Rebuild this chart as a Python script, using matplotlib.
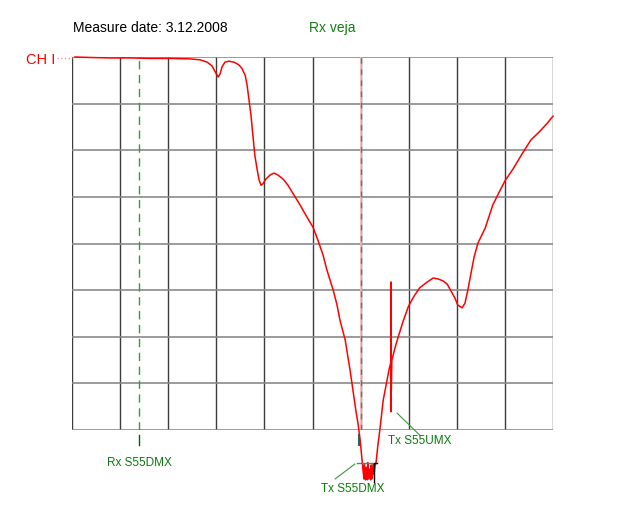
import numpy as np
import matplotlib
matplotlib.use("Agg")
import matplotlib.pyplot as plt

plt.rcParams['font.family'] = ['Liberation Sans', 'DejaVu Sans']

# trace in screen divisions (10 x 8 grid, 0 = top line)
x_div = [0.06, 0.37, 0.79, 1.21, 1.62, 2.04, 2.45, 2.66, 2.81, 2.91, 2.99, 3.04, 3.08, 3.12,
         3.18, 3.26, 3.37, 3.47, 3.53, 3.60, 3.64, 3.68, 3.72, 3.76, 3.80, 3.85, 3.89, 3.93,
         3.97, 4.03, 4.12, 4.20, 4.28, 4.39, 4.49, 4.59, 4.74, 4.86, 5.01, 5.11, 5.22, 5.30,
         5.43, 5.51, 5.57, 5.68, 5.78, 5.84, 5.90, 5.95, 5.99, 6.03,
         6.05, 6.07, 6.08, 6.10, 6.12, 6.14, 6.15, 6.17, 6.19, 6.21, 6.22, 6.24, 6.26, 6.28,
         6.30, 6.32, 6.36, 6.40, 6.47, 6.55, 6.59, 6.63, 6.63, 6.63,
         6.65, 6.72, 6.78, 6.88, 6.99, 7.11, 7.23, 7.38, 7.51, 7.61, 7.71, 7.80, 7.88, 7.96,
         8.02, 8.11, 8.17, 8.23, 8.30, 8.36, 8.44, 8.59, 8.75, 8.88, 9.00, 9.17, 9.38, 9.54,
         9.73, 9.88, 10.00]
y_div = [0.00, -0.01, -0.02, -0.02, -0.03, -0.03, -0.04, -0.06, -0.11, -0.19, -0.34, -0.43,
         -0.36, -0.21, -0.11, -0.09, -0.11, -0.17, -0.24, -0.39, -0.60, -0.92, -1.24, -1.67,
         -2.10, -2.42, -2.64, -2.75, -2.72, -2.62, -2.53, -2.49, -2.53, -2.62, -2.75, -2.92,
         -3.17, -3.39, -3.65, -3.92, -4.25, -4.57, -5.00, -5.32, -5.64, -6.07, -6.71, -7.14,
         -7.57, -7.89, -8.21, -8.64,
         -8.86, -9.05, -8.74, -9.07, -8.80, -9.07, -8.70, -9.05, -8.84, -9.07, -8.75, -9.04,
         -8.72, -8.95, -8.76, -8.71, -8.32, -8.00, -7.36, -6.93, -6.71, -6.54, -4.83, -7.61,
         -6.50, -6.22, -6.01, -5.68, -5.36, -5.13, -4.95, -4.83, -4.74, -4.76, -4.80, -4.87,
         -5.02, -5.17, -5.32, -5.38, -5.28, -5.00, -4.61, -4.29, -3.99, -3.67, -3.17, -2.90,
         -2.66, -2.40, -2.04, -1.78, -1.59, -1.42, -1.27]

rx_marker = 1.40   # Rx S55DMX
tx_dmx_marker = 5.97
center_line = 6.01

fig = plt.figure(figsize=(6.25, 5.07), dpi=100)
ax = fig.add_axes([72/625, 1 - 430/507, 481/625, 373/507])
ax.set_xlim(0, 10)
ax.set_ylim(-8, 0)

for v in range(0, 11):
    ax.axvline(v, color='#3c3c3c', lw=1, zorder=1)
for h in range(-8, 1):
    ax.axhline(h, color='#8a8a8a', lw=1.2, zorder=1)
for s in ax.spines.values():
    s.set_visible(False)
ax.set_xticks([])
ax.set_yticks([])

# marker lines
ax.axvline(rx_marker, color='#3a9a3a', lw=1, ls=(0, (6, 4)), zorder=2)
ax.axvline(center_line, color='#ffb8b8', lw=1.2, zorder=2)
ax.axvline(center_line, color='#707070', lw=1, ls=(0, (4, 4)), zorder=2)

ax.plot(x_div, y_div, color='#ff0000', lw=1.1, clip_on=False, zorder=3)

# annotations below the grid
ax.plot([rx_marker, rx_marker], [-8.11, -8.32], color='#006400', lw=1, clip_on=False)
ax.text(rx_marker, -8.71, 'Rx S55DMX', color='#0a7a0a', fontsize=8.5,
        ha='center', va='center', clip_on=False)

ax.plot([tx_dmx_marker, tx_dmx_marker], [-8.11, -8.32], color='#107070', lw=1.5, clip_on=False)
ax.plot([5.93, 6.26], [-8.71, -8.71], color='#2a9090', lw=1, clip_on=False, zorder=4)
ax.plot([6.34, 6.28, 6.28], [-8.71, -8.71, -9.12], color='black', lw=1, clip_on=False, zorder=4)
ax.plot([5.47, 5.88], [-9.05, -8.73], color='#3a9a3a', lw=0.8, clip_on=False)
ax.text(5.84, -9.27, 'Tx S55DMX', color='#0a7a0a', fontsize=8.5,
        ha='center', va='center', clip_on=False)

ax.plot([6.76, 7.23], [-7.64, -8.11], color='#3a9a3a', lw=0.8, clip_on=False)
ax.text(7.23, -8.24, 'Tx S55UMX', color='#0a7a0a', fontsize=8.5,
        ha='center', va='center', clip_on=False)

# header texts
fig.text(73/625, 1 - 28/507, 'Measure date: 3.12.2008', color='black', fontsize=10,
         ha='left', va='center')
fig.text(332/625, 1 - 28/507, 'Rx veja', color='#108010', fontsize=10,
         ha='center', va='center')
fig.text(55/625, 1 - 60/507, 'CH I', color='#ff0000', fontsize=10.5,
         ha='right', va='center')
fig.lines.append(plt.Line2D([57/625, 72/625], [1 - 58/507, 1 - 58/507],
                            transform=fig.transFigure, color='#ff9090', lw=1, ls=':'))

fig.savefig('out.png', dpi=100)
